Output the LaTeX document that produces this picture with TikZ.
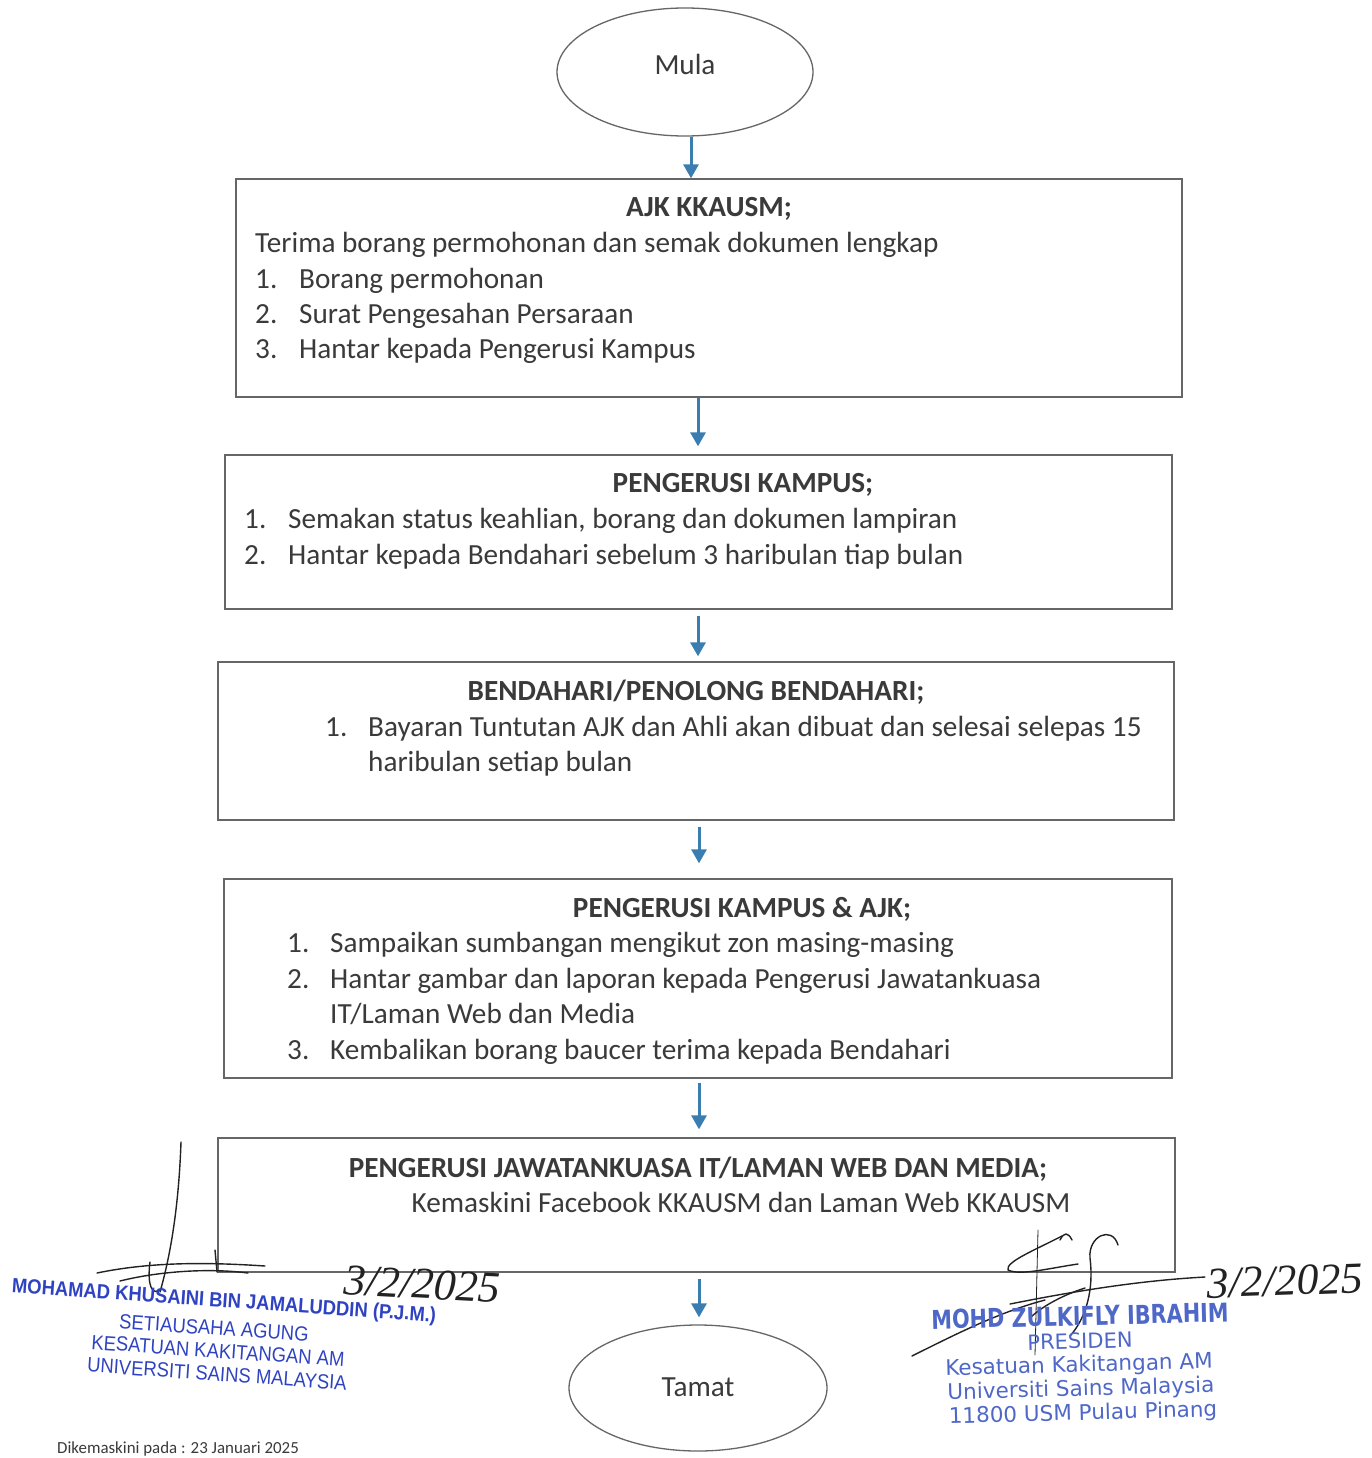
\documentclass[tikz,border=0pt]{standalone}
\usepackage{fontspec}
\setmainfont{Carlito}
\newfontfamily\stampAfont[FakeStretch=0.9]{Liberation Sans}
\newfontfamily\stampBbold[FakeStretch=0.8]{DejaVu Sans}
\newfontfamily\stampBfont{DejaVu Sans}
\newfontfamily\handfont{Liberation Serif}
\usetikzlibrary{arrows.meta,shapes.geometric}
\definecolor{txt}{HTML}{3A3A3A}
\definecolor{edge}{HTML}{666666}
\definecolor{arrowblue}{HTML}{3A7DB0}
\definecolor{stampA}{HTML}{2F43C2}
\definecolor{stampB}{HTML}{4F68C8}
\definecolor{ink}{HTML}{222222}
\begin{document}
\begin{tikzpicture}[x=1pt,y=-1pt,
  box/.style={draw=edge, line width=1.3pt, rectangle, inner sep=0pt},
  term/.style={draw=edge, line width=1.3pt, ellipse, inner sep=0pt},
  body/.style={font=\fontsize{29.2}{34}\selectfont, text=txt, anchor=base west, inner sep=0pt},
  ctext/.style={body, anchor=base},
  title/.style={font=\fontsize{29.2}{34}\selectfont\bfseries, text=txt, anchor=base, inner sep=0pt},
  arr/.style={draw=arrowblue, line width=3pt, -{Triangle[length=14pt,width=15pt]}},
  stampa/.style={font=\fontsize{20.5}{20.5}\stampAfont, text=stampA, inner sep=0pt, rotate=-4},
  stampb/.style={font=\fontsize{21.5}{21.5}\stampBfont, text=stampB, inner sep=0pt, rotate=1.5},
  sig/.style={draw=ink, line width=1.4pt, line cap=round, line join=round},
  hand/.style={font=\fontsize{44}{44}\handfont\itshape, text=ink, inner sep=0pt}
]
\useasboundingbox (0,0) rectangle (1372,1458);
\fill[white] (0,0) rectangle (1372,1458);

% terminals
\node[term, minimum width=256pt, minimum height=128pt] (mula) at (685,72) {};
\node[ctext] (mulat) at (685,75) {Mula};
\node[term, minimum width=258pt, minimum height=126pt] (tamat) at (698,1388) {};
\node[ctext] (tamatt) at (698,1396) {Tamat};

% boxes
\node[box, minimum width=946pt, minimum height=218pt] (b1) at (709,288) {};
\node[box, minimum width=947pt, minimum height=154pt] (b2) at (698.5,532) {};
\node[box, minimum width=956pt, minimum height=158pt] (b3) at (696,741) {};
\node[box, minimum width=948pt, minimum height=199pt] (b4) at (698,978.5) {};
\node[box, minimum width=957pt, minimum height=134pt] (b5) at (696.5,1205) {};

% box 1 text
\node[title] (b1t) at (709,216) {AJK KKAUSM;};
\node[body] (b1a) at (255,252) {Terima borang permohonan dan semak dokumen lengkap};
\node[body] (b1n1) at (255,288) {1.};
\node[body] (b1l1) at (299,288) {Borang permohonan};
\node[body] (b1n2) at (255,323) {2.};
\node[body] (b1l2) at (299,323) {Surat Pengesahan Persaraan};
\node[body] (b1n3) at (255,358) {3.};
\node[body] (b1l3) at (299,358) {Hantar kepada Pengerusi Kampus};

% box 2 text
\node[title] (b2t) at (743,492) {PENGERUSI KAMPUS;};
\node[body] (b2n1) at (244,528) {1.};
\node[body] (b2l1) at (288,528) {Semakan status keahlian, borang dan dokumen lampiran};
\node[body] (b2n2) at (244,564) {2.};
\node[body] (b2l2) at (288,564) {Hantar kepada Bendahari sebelum 3 haribulan tiap bulan};

% box 3 text
\node[title] (b3t) at (696,700) {BENDAHARI/PENOLONG BENDAHARI;};
\node[body] (b3n1) at (325,736) {1.};
\node[body] (b3l1) at (368,736) {Bayaran Tuntutan AJK dan Ahli akan dibuat dan selesai selepas 15};
\node[body] (b3l1b) at (368,771) {haribulan setiap bulan};

% box 4 text
\node[title] (b4t) at (742,917) {PENGERUSI KAMPUS \& AJK;};
\node[body] (b4n1) at (287,952) {1.};
\node[body] (b4l1) at (330,952) {Sampaikan sumbangan mengikut zon masing-masing};
\node[body] (b4n2) at (287,988) {2.};
\node[body] (b4l2) at (330,988) {Hantar gambar dan laporan kepada Pengerusi Jawatankuasa};
\node[body] (b4l2b) at (330,1023) {IT/Laman Web dan Media};
\node[body] (b4n3) at (287,1059) {3.};
\node[body] (b4l3) at (330,1059) {Kembalikan borang baucer terima kepada Bendahari};

% box 5 text
\node[title] (b5t) at (698,1177) {PENGERUSI JAWATANKUASA IT/LAMAN WEB DAN MEDIA;};
\node[ctext] (b5l1) at (741,1212) {Kemaskini Facebook KKAUSM dan Laman Web KKAUSM};

% arrows
\coordinate (xa) at (691,0);
\coordinate (xb) at (698,0);
\coordinate (xc) at (699,0);
\draw[arr] (mula.south -| xa) -- (b1.north -| xa);
\draw[arr, shorten >=8pt] (b1.south -| xb) -- (b2.north -| xb);
\draw[arr, shorten <=6pt, shorten >=5pt] (b2.south -| xb) -- (b3.north -| xb);
\draw[arr, shorten <=6pt, shorten >=15pt] (b3.south -| xc) -- (b4.north -| xc);
\draw[arr, shorten <=4pt, shorten >=8pt] (b4.south -| xc) -- (b5.north -| xc);
\draw[arr, shorten <=6pt, shorten >=7pt] (b5.south -| xc) -- (tamat.north -| xc);

% footer
\node[font=\fontsize{16.9}{17}\selectfont, text=txt, anchor=base west, inner sep=0pt] (foot) at (57,1453) {Dikemaskini pada : 23 Januari 2025};

% left signature
\draw[sig] (181,1142) .. controls (179,1200) and (172,1250) .. (160,1292);
\draw[sig] (97,1273) .. controls (150,1262) and (205,1262) .. (265,1266);
\draw[sig] (120,1281) .. controls (160,1271) and (210,1268) .. (248,1273);
\draw[sig] (150,1262) .. controls (147,1285) and (152,1298) .. (162,1288);
\draw[sig] (215,1250) -- (217,1272);
\node[hand, rotate=-3] (datel) at (422,1284) {3/2/2025};

% left stamp
\node[stampa, font=\fontsize{20.5}{20.5}\stampAfont\bfseries] (sa1) at (224,1302) {MOHAMAD KHUSAINI BIN JAMALUDDIN (P.J.M.)};
\node[stampa] (sa2) at (214,1328) {SETIAUSAHA AGUNG};
\node[stampa] (sa3) at (218,1351) {KESATUAN KAKITANGAN AM};
\node[stampa] (sa4) at (217,1374) {UNIVERSITI SAINS MALAYSIA};

% right signature
\draw[sig] (912,1356) .. controls (960,1332) and (1000,1312) .. (1045,1300);
\draw[sig] (1010,1304) .. controls (1090,1288) and (1150,1280) .. (1205,1277);
\draw[sig, line width=0.8pt] (1038,1230) -- (1035,1355);
\draw[sig] (1062,1236) .. controls (1035,1250) and (1005,1262) .. (1008,1270) .. controls (1020,1276) and (1050,1268) .. (1078,1264);
\draw[sig] (1118,1245) .. controls (1112,1225) and (1088,1236) .. (1090,1258) .. controls (1094,1290) and (1086,1318) .. (1070,1336);
\draw[sig] (1085,1288) .. controls (1060,1296) and (1040,1308) .. (1030,1318);
\draw[sig] (1060,1240) .. controls (1064,1232) and (1068,1232) .. (1072,1240);
\node[hand, rotate=2] (dater) at (1285,1281) {3/2/2025};

% right stamp
\node[stampb, font=\fontsize{26}{26}\stampBbold\bfseries] (sb1) at (1080,1316) {MOHD ZULKIFLY IBRAHIM};
\node[stampb, font=\fontsize{21}{21}\stampBfont] (sb2) at (1080,1341) {PRESIDEN};
\node[stampb] (sb3) at (1079,1366) {Kesatuan Kakitangan AM};
\node[stampb] (sb4) at (1081,1390) {Universiti Sains Malaysia};
\node[stampb] (sb5) at (1083,1414) {11800 USM Pulau Pinang};
\end{tikzpicture}
\end{document}
